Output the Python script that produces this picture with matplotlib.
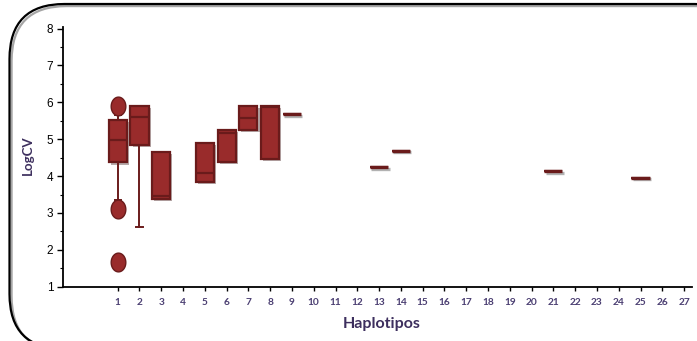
import numpy as np
import matplotlib
matplotlib.use("Agg")
from matplotlib import pyplot as plt
from matplotlib.path import Path
from matplotlib.patches import BoxStyle
from matplotlib.lines import Line2D
import matplotlib.patheffects as pe

# box statistics per haplotype
positions = [1, 2, 3, 5, 6, 7, 8, 9, 13, 14, 21, 25]
q1 = [4.37, 4.84, 3.38, 3.83, 4.39, 5.25, 4.47, 5.68, 4.24, 4.69, 4.14, 3.96]
med = [4.99, 5.61, 3.45, 4.07, 5.17, 5.57, 5.88, 5.68, 4.24, 4.69, 4.14, 3.96]
q3 = [5.52, 5.90, 4.65, 4.90, 5.25, 5.90, 5.90, 5.68, 4.24, 4.69, 4.14, 3.96]
whislo = [3.35, 2.61, 3.38, 3.83, 4.39, 5.25, 4.47, 5.68, 4.24, 4.69, 4.14, 3.96]
whishi = [5.65, 5.90, 4.65, 4.90, 5.25, 5.90, 5.90, 5.68, 4.24, 4.69, 4.14, 3.96]
fliers = [[5.90, 3.10, 1.68], [], [], [], [], [], [], [], [], [], [], []]
haplotipos = list(range(1, 28))

fill = "#992b2b"
edge = "#6a1b1b"
purple = "#3d2f5e"

stats = []
for i in range(len(positions)):
    stats.append(dict(med=med[i], q1=q1[i], q3=q3[i], whislo=whislo[i],
                      whishi=whishi[i], fliers=fliers[i]))

# slightly tall ellipse for the outliers
t = np.linspace(0, 2 * np.pi, 60)
ellipse = Path(np.column_stack([0.78 * np.cos(t), np.sin(t)]), closed=True)

W, H = 697, 341
fig = plt.figure(figsize=(W / 100, H / 100), dpi=100)
ax = fig.add_axes([0.0904, 0.1592, 0.902, 0.7625])

shadow = [pe.SimplePatchShadow(offset=(1.5, -1.5), alpha=0.35), pe.Normal()]
bp = ax.bxp(stats, positions=positions, widths=0.83, patch_artist=True,
            capwidths=0.28,
            boxprops=dict(facecolor=fill, edgecolor=edge, linewidth=1.6),
            medianprops=dict(color=edge, linewidth=1.6, solid_capstyle="butt"),
            whiskerprops=dict(color=edge, linewidth=1.4),
            capprops=dict(color=edge, linewidth=1.4),
            flierprops=dict(marker=ellipse, markersize=13.5,
                            markerfacecolor=fill, markeredgecolor=edge,
                            markeredgewidth=1.0))
for b in bp["boxes"]:
    b.set_path_effects(shadow)
# single-value haplotypes collapse to a thick dash
for i, m in enumerate(bp["medians"]):
    if q1[i] == q3[i]:
        m.set_linewidth(2.4)
        m.set_path_effects([pe.SimpleLineShadow(offset=(1, -1.2), alpha=0.3),
                            pe.Normal()])

ax.set_xlim(-1.51, 27.35)
ax.set_ylim(1, 8.05)
ax.set_xticks(haplotipos)
ax.set_xticklabels([str(h) for h in haplotipos])
ax.set_yticks(range(1, 9))
ax.set_yticks(np.arange(1.5, 8, 1.0), minor=True)

for s in ["top", "right"]:
    ax.spines[s].set_visible(False)
ax.spines["left"].set_linewidth(1.3)
ax.spines["bottom"].set_linewidth(1.3)
ax.patch.set_alpha(0)

ax.tick_params(axis="x", length=3, width=1, pad=5, labelsize=7.3,
               labelcolor="#4b3f72")
ax.tick_params(axis="y", which="major", length=4.5, width=1, pad=2.5,
               labelsize=8.5)
ax.tick_params(axis="y", which="minor", length=2, width=0.8)
for lab in ax.get_xticklabels():
    lab.set_fontweight("bold")
    lab.set_family("Lato")
for lab in ax.get_yticklabels():
    lab.set_family("Liberation Sans")

ax.set_xlabel("Haplotipos", fontsize=11.5, fontweight="bold", color=purple,
              family="Lato", va="center")
ax.set_ylabel("LogCV", fontsize=9.5, fontweight="bold", color=purple,
              family="Lato", va="center")
ax.xaxis.set_label_coords(0.5066, -0.1415)
ax.yaxis.set_label_coords(-0.0564, 0.506)

# rounded frame around the chart, running off the right and bottom edges;
# built in pixels, then drawn in figure fractions
rounded = BoxStyle.Round(pad=0, rounding_size=55)(9.5, -8, 740, 345, 1)
pts = np.vstack(rounded.to_polygons(closed_only=False))
frame = Line2D(pts[:, 0] / W, pts[:, 1] / H, transform=fig.transFigure,
               color="black", linewidth=1.6, zorder=-1)
frame.set_path_effects([pe.SimpleLineShadow(offset=(1.5, -1.5), shadow_color="gray",
                                            alpha=0.7), pe.Normal()])
frame.set_in_layout(False)
fig.add_artist(frame)

fig.savefig("out.png", dpi=100)
